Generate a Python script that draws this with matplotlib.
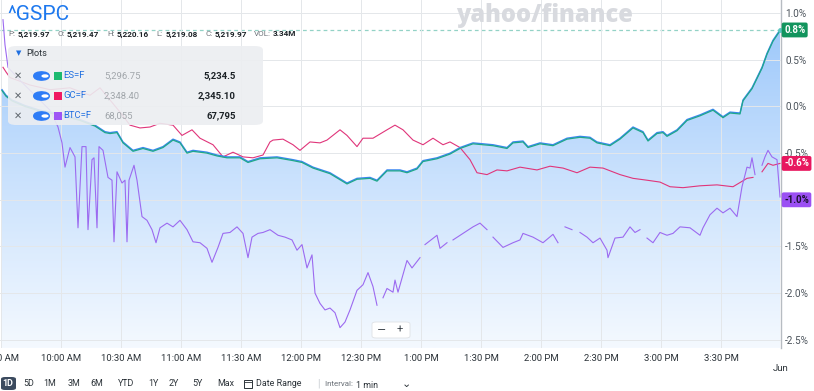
import numpy as np
import matplotlib
matplotlib.use("Agg")
import matplotlib.pyplot as plt
from matplotlib.colors import LinearSegmentedColormap
from matplotlib.patches import FancyBboxPatch, Circle, Rectangle
from matplotlib.transforms import blended_transform_factory

plt.rcParams['font.family'] = ['Roboto', 'DejaVu Sans']

# minutes after 9:30 open, % change
gspc = [(0.5, 0.18), (2.5, 0.12), (5.5, 0.07), (12, 0.01), (19.5, -0.04), (29.5, -0.08),
        (39.5, -0.14), (47, -0.20), (52, -0.27), (54.5, -0.28), (58, -0.27), (61, -0.38),
        (66, -0.47), (71, -0.44), (76, -0.47), (81, -0.43), (86, -0.35), (89.5, -0.38),
        (93, -0.49), (96, -0.47), (103, -0.49), (108, -0.52), (113, -0.54), (119.5, -0.54),
        (123.5, -0.59), (129.5, -0.55), (138, -0.54), (146, -0.57), (150.5, -0.59), (156, -0.65),
        (164.5, -0.71), (173, -0.82), (178, -0.77), (184.5, -0.76), (188, -0.79), (193, -0.68),
        (199.5, -0.68), (203, -0.70), (208, -0.66), (211, -0.58), (218, -0.55), (224.5, -0.50),
        (229.5, -0.44), (236, -0.39), (246, -0.41), (253, -0.44), (256, -0.38), (261, -0.37),
        (263.5, -0.43), (269.5, -0.39), (276, -0.41), (283, -0.34), (289.5, -0.32), (294.5, -0.33),
        (298, -0.38), (304.5, -0.41), (309.5, -0.34), (316, -0.22), (321, -0.27), (323.5, -0.36),
        (328, -0.28), (331, -0.27), (333, -0.31), (338, -0.25), (343, -0.14), (349.5, -0.09),
        (356, -0.03), (361, -0.11), (364.5, -0.06), (369.5, -0.07), (371, 0.07), (375.5, 0.20),
        (380.5, 0.42), (383, 0.57), (386, 0.71), (389.5, 0.82)]

es = [(0.5, 0.17), (2.5, 0.11), (5.5, 0.06), (12, 0.00), (19.5, -0.05), (29.5, -0.09),
      (39.5, -0.15), (47, -0.21), (52, -0.28), (54.5, -0.29), (58, -0.28), (61, -0.39),
      (66, -0.48), (71, -0.45), (76, -0.48), (81, -0.44), (86, -0.36), (89.5, -0.39),
      (93, -0.50), (96, -0.48), (103, -0.50), (108, -0.53), (113, -0.55), (119.5, -0.55),
      (123.5, -0.60), (129.5, -0.56), (138, -0.55), (146, -0.58), (150.5, -0.60), (156, -0.66),
      (164.5, -0.72), (173, -0.83), (178, -0.78), (184.5, -0.77), (188, -0.80), (193, -0.69),
      (199.5, -0.69), (203, -0.71), (208, -0.67), (211, -0.59), (218, -0.56), (224.5, -0.51),
      (229.5, -0.45), (236, -0.40), (246, -0.42), (253, -0.45), (256, -0.39), (261, -0.38),
      (263.5, -0.44), (269.5, -0.40), (276, -0.42), (283, -0.35), (289.5, -0.33), (294.5, -0.34),
      (298, -0.39), (304.5, -0.42), (309.5, -0.35), (316, -0.23), (321, -0.28), (323.5, -0.37),
      (328, -0.29), (331, -0.28), (333, -0.32), (338, -0.26), (343, -0.15), (349.5, -0.10),
      (356, -0.04), (361, -0.12), (364.5, -0.07), (369.5, -0.08), (371, 0.06), (375.5, 0.19),
      (380.5, 0.41), (383, 0.56), (386, 0.70), (389.5, 0.81)]

gold = [(1, 0.42), (2.5, 0.37), (4.5, 0.31), (14.5, 0.23), (24.5, 0.18), (34.5, 0.20),
        (44.5, 0.12), (49.5, 0.20), (54.5, 0.07), (59.5, -0.06), (64.5, -0.20), (69.5, -0.23),
        (74.5, -0.22), (79.5, -0.18), (86, -0.20), (90.5, -0.31), (95.5, -0.25), (99.5, -0.34),
        (106, -0.41), (111, -0.54), (116, -0.49), (121, -0.54), (126, -0.55), (131, -0.52),
        (134.5, -0.38), (136, -0.36), (141, -0.35), (146, -0.41), (149.5, -0.47), (154.5, -0.38),
        (159.5, -0.39), (163, -0.36), (169.5, -0.25), (173, -0.31), (178, -0.43), (181, -0.34),
        (186, -0.34), (193, -0.25), (197, -0.20), (201, -0.25), (206, -0.36), (211, -0.41),
        (216, -0.34), (221, -0.41), (224.5, -0.38), (229.5, -0.44), (234.5, -0.57), (238, -0.71),
        (243, -0.73), (248, -0.68), (253, -0.69), (259.5, -0.65), (268, -0.68), (274.5, -0.64),
        (281, -0.66), (288, -0.71), (294.5, -0.65), (301, -0.66), (309.5, -0.73), (316, -0.77),
        (323, -0.79), (329.5, -0.81), (334.5, -0.86), (341, -0.87), (349.5, -0.85), (358, -0.84),
        (366, -0.86), (373, -0.77), (376, -0.76), (378, None), (380.5, -0.70), (383.5, -0.61),
        (386, -0.63), (389.5, -0.61)]

btc = [(1, 0.93), (2, 0.66), (3.5, 0.42), (9.5, 0.28), (17, 0.12), (24.5, -0.04),
       (28.5, -0.22), (30.5, -0.39), (32, -0.65), (34.5, -0.44), (37, -0.54), (38.5, -1.30),
       (40.5, -0.43), (42.5, -0.43), (43.5, -1.32), (45.5, -0.57), (46.5, -0.55), (48, -1.30),
       (49, -0.43), (51, -0.47), (53.5, -0.76), (55.5, -0.79), (56.5, -1.45), (58, -0.70),
       (60.5, -0.82), (62, -0.79), (63, -1.45), (64, -0.79), (66.5, -0.63), (68, -0.79),
       (70.5, -1.18), (73, -1.22), (75.5, -1.32), (77.5, -1.46), (79.5, -1.30), (83, -1.25),
       (86, -1.29), (89.5, -1.22), (93, -1.32), (96, -1.45), (99.5, -1.46), (103, -1.52),
       (105.5, -1.67), (108.5, -1.51), (111, -1.36), (114.5, -1.35), (118, -1.29), (121, -1.36),
       (123.5, -1.62), (125.5, -1.40), (128.5, -1.36), (131, -1.35), (134.5, -1.32), (138.5, -1.38),
       (142, -1.40), (145.5, -1.43), (148, -1.54), (150.5, -1.48), (153, -1.73), (155.5, -1.59),
       (157, -2.00), (159.5, -2.11), (162, -2.18), (164.5, -2.16), (167, -2.21), (169.5, -2.37),
       (172, -2.31), (174.5, -2.18), (178, -1.97), (181, -1.91), (183.5, -1.78), (186, -1.93),
       (188, -2.13), (189.5, None), (191, -2.05), (193, -1.95), (196, -1.99), (197, -1.86),
       (198.5, -1.99), (203, -1.65), (205.5, -1.73), (209.5, -1.62), (211, None), (212, -1.48),
       (218, -1.38), (219.5, -1.52), (223, -1.46), (224.5, None), (226, -1.43), (231, -1.36),
       (236, -1.29), (239.5, -1.25), (243, -1.32), (244.5, None), (246, -1.40), (251, -1.51),
       (256, -1.46), (259.5, -1.43), (261, -1.36), (266, -1.40), (271, -1.46), (276, -1.37),
       (278.5, -1.46), (280, None), (282, -1.29), (285.5, -1.32), (287.5, None), (289.5, -1.35),
       (293, -1.40), (296, -1.46), (299.5, -1.41), (303, -1.54), (303.5, -1.62), (307, -1.41),
       (311, -1.40), (314.5, -1.29), (317, -1.35), (319.5, -1.32), (321, None), (323, -1.41),
       (326, -1.46), (329.5, -1.35), (333, -1.38), (336, -1.36), (339.5, -1.29), (344.5, -1.30),
       (349.5, -1.38), (351, -1.30), (354.5, -1.16), (358, -1.09), (361, -1.14), (364.5, -1.09),
       (368, -1.18), (370.5, -0.86), (373, -0.65), (374.5, -0.66), (375.5, -0.55), (377, -0.73),
       (378.5, None), (380.5, -0.63), (382, -0.54), (383.5, -0.47), (385.5, -0.54), (388, -0.57),
       (389.5, -0.97)]

time_ticks = [0, 30, 60, 90, 120, 150, 180, 210, 240, 270, 300, 330, 360, 390]
time_labels = ['9:30 AM', '10:00 AM', '10:30 AM', '11:00 AM', '11:30 AM', '12:00 PM', '12:30 PM',
               '1:00 PM', '1:30 PM', '2:00 PM', '2:30 PM', '3:00 PM', '3:30 PM', '\nJun']
pct_ticks = [-2.5, -2.0, -1.5, -1.0, -0.5, 0.0, 0.5, 1.0]

ohlc = [('P:', '5,219.97'), ('O:', '5,219.47'), ('H:', '5,220.16'), ('L:', '5,219.08'),
        ('C:', '5,219.97'), ('VOL:', '3.34M')]
plots = [('ES=F', '5,296.75', '5,234.5', '#1db96f'),
         ('GC=F', '2,348.40', '2,345.10', '#ef1a63'),
         ('BTC=F', '68,055', '67,795', '#9d55f5')]
end_labels = [(0.82, '0.8%', '#12945d', 'white'),
              (-0.61, '-0.6%', '#e8175f', 'white'),
              (-1.0, '-1.0%', '#9b50f3', '#1b1030')]
ranges = ['1D', '5D', '1M', '3M', '6M', 'YTD', '1Y', '2Y', '5Y', 'Max']


def split(pairs):
    t = np.array([p[0] for p in pairs], dtype=float)
    v = np.array([np.nan if p[1] is None else p[1] for p in pairs], dtype=float)
    return t, v


W, H = 814, 391
fig = plt.figure(figsize=(W / 100, H / 100), dpi=100)
ax = fig.add_axes([0, 43 / H, 781 / W, 348 / H])
x0, x1 = -0.5, 390
y0, y1 = -2.588, 1.141

t_sp, v_sp = split(gspc)
t_es, v_es = split(es)
t_gc, v_gc = split(gold)
t_bt, v_bt = split(btc)

# gradient area under ^GSPC
grad = np.linspace(0, 1, 256).reshape(-1, 1)
cmap = LinearSegmentedColormap.from_list('area', ['#96c4fa', '#c9e1fd', '#f4f9ff'])
im = ax.imshow(grad, extent=[x0, x1, y0, y1], aspect='auto', cmap=cmap, origin='upper', zorder=1)
area = ax.fill_between(t_sp, v_sp, y0, facecolor='none', edgecolor='none')
im.set_clip_path(area.get_paths()[0], transform=ax.transData)

ax.axhline(v_sp[-1], color='#93d2c6', lw=0.9, dashes=(3, 2.5), zorder=2)
ax.plot(t_gc, v_gc, color='#e0357a', lw=0.8, zorder=3)
ax.plot(t_bt, v_bt, color='#9c6af0', lw=0.8, zorder=3)
ax.plot(t_sp, v_sp, color='#3d86f2', lw=1.0, zorder=4)
ax.plot(t_es, v_es, color='#1fa88a', lw=0.9, zorder=4)
ax.plot([t_sp[-1]], [v_sp[-1]], 'o', ms=2.5, color='#5cc6c0', zorder=5)

ax.set_xlim(x0, x1)
ax.set_ylim(y0, y1)
ax.set_axisbelow(False)
ax.grid(True, color='#e4e7ea', lw=0.7)
ax.set_xticks(time_ticks)
ax.set_xticklabels(time_labels, fontsize=6.8, color='#2b3238')
ax.set_yticks(pct_ticks)
ax.set_yticklabels(['%.1f%%' % p for p in pct_ticks], fontsize=7.2, color='#4a525a')
ax.yaxis.tick_right()
ax.tick_params(axis='both', length=0)
ax.tick_params(axis='x', pad=4)
ax.tick_params(axis='y', pad=3)
for s in ['top', 'left', 'bottom']:
    ax.spines[s].set_visible(False)
ax.spines['right'].set_color('#b7bcc2')
ax.spines['right'].set_linewidth(1)

tr = blended_transform_factory(ax.transAxes, ax.transData)
for val, txt, bg, fg in end_labels:
    ax.text(1.004, val, txt, transform=tr, fontsize=7, color=fg, fontweight='bold',
            va='center', ha='left', zorder=6,
            bbox=dict(boxstyle='round,pad=0.25,rounding_size=0.2', fc=bg, ec='none'))


def fx(x):
    return x / W


def fy(y):
    return 1 - y / H


def ftext(x, y, s, **kw):
    kw.setdefault('va', 'center')
    fig.text(fx(x), fy(y), s, **kw)


def fbox(x, y, w, h, r, **kw):
    p = FancyBboxPatch((fx(x), fy(y + h)), w / W, h / H,
                       boxstyle='round,pad=0,rounding_size=%f' % (r / H),
                       transform=fig.transFigure, **kw)
    fig.add_artist(p)
    return p


# header
ftext(545, 15, 'yahoo/finance', fontsize=17, color='#d8dadf', fontweight='heavy', ha='center',
      family=['Open Sans', 'DejaVu Sans'])
ftext(7, 15, '^GSPC', fontsize=15, color='#1d78ee')
lab_x = [8, 57, 107, 156, 205, 254]
for (lab, val), x in zip(ohlc, lab_x):
    ftext(x, 34, lab, fontsize=5.9, color='#70767c')
    ftext(x + (19 if lab == 'VOL:' else 10), 34, val, fontsize=5.9, color='#1b2126',
          fontweight='bold')

# plots legend panel
fbox(8, 46, 255, 79, 4, fc='#eceef1', ec='none', alpha=0.9, zorder=10)
ftext(16, 54, '▼', fontsize=5, color='#1f6fe0', zorder=11)
ftext(26, 54, 'Plots', fontsize=6.6, color='#2b3238', zorder=11)
for i, (sym, prev, last, col) in enumerate(plots):
    yy = 76 + 20 * i
    ftext(14, yy, '✕', fontsize=7, color='#5f666d', zorder=11)
    fbox(33, yy - 5, 17, 10, 5, fc='#2e7cf6', ec='none', zorder=11)
    fig.add_artist(Circle((fx(45), fy(yy)), 3.6 / W, transform=fig.transFigure,
                          fc='white', ec='none', zorder=12))
    fig.add_artist(Rectangle((fx(54), fy(yy + 4)), 8 / W, 8 / H, transform=fig.transFigure,
                             fc=col, ec='none', zorder=11))
    ftext(63, yy, sym, fontsize=6.8, color='#1f6fe0', zorder=11)
    ftext(104, yy, prev, fontsize=6.8, color='#a1a6ab', zorder=11)
    ftext(236, yy, last, fontsize=6.8, color='#1b2126', fontweight='bold', ha='right', zorder=11)

# zoom control
fbox(372, 322, 38, 16, 2, fc='white', ec='#dfe2e5', lw=0.6, zorder=10)
ftext(382, 330, '−', fontsize=8, color='#3a4148', ha='center', zorder=11,
      family=['DejaVu Sans'])
ftext(400, 330, '+', fontsize=8, color='#3a4148', ha='center', zorder=11)

# range bar
range_x = [8, 29, 50, 74, 97, 126, 153, 174, 197, 226]
for r, x in zip(ranges, range_x):
    if r == '1D':
        fbox(1, 377, 15, 13, 2, fc='#3b4a5e', ec='none', zorder=10)
        ftext(x, 384, r, fontsize=6.4, color='white', ha='center', fontweight='bold', zorder=11)
    else:
        ftext(x, 384, r, fontsize=6.4, color='#2b3238', ha='center')
# calendar icon
fig.add_artist(Rectangle((fx(244), fy(388)), 8 / W, 8 / H, transform=fig.transFigure,
                         fc='none', ec='#2b3238', lw=0.7))
fig.add_artist(Rectangle((fx(244), fy(382)), 8 / W, 0.1 / H, transform=fig.transFigure,
                         fc='none', ec='#2b3238', lw=0.6))
ftext(256, 384, 'Date Range', fontsize=6.4, color='#2b3238')
ftext(318, 384, '|', fontsize=7, color='#c7cbd0', ha='center')
ftext(325, 384, 'Interval: ', fontsize=5.8, color='#6b7178')
ftext(356, 385, '1 min', fontsize=6.4, color='#2b3238')
ftext(406, 384, '⌄', fontsize=8, color='#2b3238', ha='center', family=['DejaVu Sans'])

fig.savefig('out.png', dpi=100)
